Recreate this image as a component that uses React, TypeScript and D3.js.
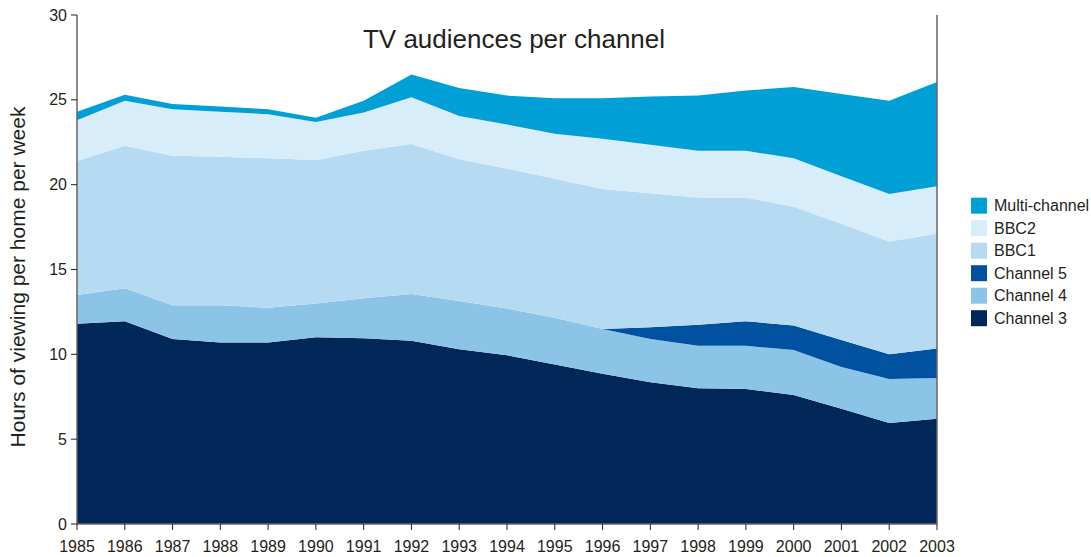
import React from 'react';
import * as d3 from 'd3';

// viewing hours per home per week
const years = [1985, 1986, 1987, 1988, 1989, 1990, 1991, 1992, 1993, 1994, 1995, 1996, 1997, 1998, 1999, 2000, 2001, 2002, 2003];
const channel3 = [11.8, 11.95, 10.9, 10.7, 10.7, 11.0, 10.95, 10.8, 10.3, 9.95, 9.4, 8.85, 8.35, 8.0, 7.95, 7.6, 6.8, 5.95, 6.2];
const channel4 = [1.7, 1.95, 2.0, 2.2, 2.05, 2.0, 2.35, 2.75, 2.85, 2.75, 2.75, 2.65, 2.55, 2.5, 2.55, 2.65, 2.45, 2.6, 2.4];
const channel5 = [0, 0, 0, 0, 0, 0, 0, 0, 0, 0, 0, 0, 0.7, 1.25, 1.45, 1.45, 1.6, 1.45, 1.75];
const bbc1 = [7.9, 8.4, 8.8, 8.75, 8.8, 8.45, 8.7, 8.85, 8.35, 8.25, 8.2, 8.25, 7.9, 7.5, 7.3, 7.0, 6.85, 6.65, 6.75];
const bbc2 = [2.4, 2.65, 2.75, 2.65, 2.6, 2.25, 2.25, 2.75, 2.55, 2.6, 2.65, 2.95, 2.85, 2.75, 2.75, 2.85, 2.8, 2.8, 2.8];
const multiChannel = [0.5, 0.35, 0.3, 0.3, 0.3, 0.25, 0.7, 1.35, 1.65, 1.7, 2.1, 2.4, 2.85, 3.25, 3.55, 4.2, 4.85, 5.5, 6.15];

const keys = ['Channel 3', 'Channel 4', 'Channel 5', 'BBC1', 'BBC2', 'Multi-channel'];
const colors = ['#002758', '#8cc4e8', '#0052a0', '#b6daf1', '#d8edfa', '#00a0d7'];
const yTicks = [0, 5, 10, 15, 20, 25, 30];

const series = [channel3, channel4, channel5, bbc1, bbc2, multiChannel];
const rows = years.map((yr, i) => {
  const r: any = { year: yr };
  keys.forEach((k, j) => { r[k] = series[j][i]; });
  return r;
});

const font = '"Liberation Sans", Arial, Helvetica, sans-serif';

export default function App() {
  const left = 77, right = 937, top = 15, bottom = 524;

  const x = d3.scaleLinear().domain([1985, 2003]).range([left, right]);
  const y = d3.scaleLinear().domain([0, 30]).range([bottom, top]);

  const stacked = d3.stack().keys(keys)(rows);
  const area = d3.area<any>()
    .x(d => x(d.data.year))
    .y0(d => y(d[0]))
    .y1(d => y(d[1]));

  const legendKeys = keys.slice().reverse();

  return (
    <svg width={1091} height={557} style={{ position: 'absolute', left: 0, top: 0 }} fontFamily={font}>
      {stacked.map((s, i) => (
        <path key={keys[i]} d={area(s) || ''} fill={colors[i]} />
      ))}

      <text x={514} y={48} fontSize={26} textAnchor="middle" fill="#231f20">TV audiences per channel</text>

      {/* y axis */}
      <line x1={left} x2={left} y1={top} y2={bottom} stroke="#6b6462" strokeWidth={1.5} />
      <line x1={right} x2={right} y1={top} y2={bottom} stroke="#6b6462" strokeWidth={1.5} />
      {yTicks.map(t => (
        <g key={t}>
          <line x1={left - 6} x2={left} y1={y(t)} y2={y(t)} stroke="#231f20" strokeWidth={1} />
          <text x={left - 10} y={y(t)} dy="0.35em" fontSize={16} textAnchor="end" fill="#231f20">{t}</text>
        </g>
      ))}

      {/* x axis */}
      <line x1={left} x2={right} y1={bottom} y2={bottom} stroke="#6b6462" strokeWidth={1.5} />
      {years.map(yr => (
        <g key={yr}>
          <line x1={x(yr)} x2={x(yr)} y1={bottom} y2={bottom + 6} stroke="#231f20" strokeWidth={1} />
          <text x={x(yr)} y={552} fontSize={16} textAnchor="middle" fill="#231f20">{yr}</text>
        </g>
      ))}

      <text transform="translate(25,277) rotate(-90)" fontSize={21} textAnchor="middle" fill="#231f20">
        Hours of viewing per home per week
      </text>

      {/* legend */}
      {legendKeys.map((k, i) => {
        const cy = 205.7 + i * 22.5;
        return (
          <g key={k}>
            <rect x={971} y={cy - 8} width={16} height={16} fill={colors[keys.indexOf(k)]} />
            <text x={994} y={cy} dy="0.35em" fontSize={16} fill="#231f20">{k}</text>
          </g>
        );
      })}
    </svg>
  );
}
